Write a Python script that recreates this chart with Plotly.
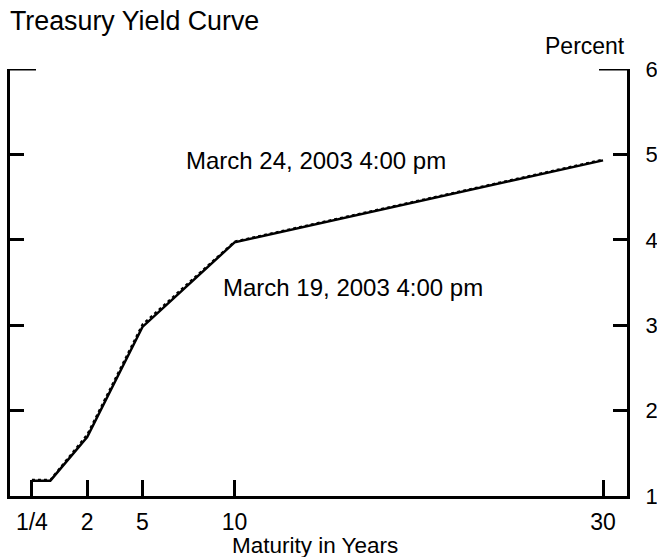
import plotly.graph_objects as go

# Treasury yield curve, two dates (percent)
maturity_labels = ["1/4", "1/2", "2", "5", "10", "30"]
# plot positions on the maturity axis (the 3-month point sits left of the origin)
maturity_pos = [-1, 0, 2, 5, 10, 30]
yield_mar24 = [1.18, 1.18, 1.69, 2.98, 3.97, 4.93]
yield_mar19 = [1.19, 1.19, 1.72, 3.01, 3.98, 4.94]

tick_pos = [-1, 2, 5, 10, 30]
tick_text = ["1/4", "2", "5", "10", "30"]
y_ticks = [1, 2, 3, 4, 5, 6]

FONT = "Liberation Sans, Arial, sans-serif"

W, H = 657, 557
L, R, T, B = 10, 30, 69, 61
PW = W - L - R

fig = go.Figure()
fig.add_trace(go.Scatter(
    x=maturity_pos, y=yield_mar19, mode="lines",
    line=dict(color="black", width=2, dash="dot"),
    name="March 19, 2003 4:00 pm", hoverinfo="skip",
))
fig.add_trace(go.Scatter(
    x=maturity_pos, y=yield_mar24, mode="lines",
    line=dict(color="black", width=2.5),
    name="March 24, 2003 4:00 pm", hoverinfo="skip",
))

fig.update_layout(
    width=W, height=H,
    margin=dict(l=L, r=R, t=T, b=B),
    plot_bgcolor="white", paper_bgcolor="white",
    showlegend=False,
    font=dict(family=FONT, size=22, color="black"),
    title=dict(
        text="Treasury Yield Curve", xref="container", yref="container",
        x=10 / W, xanchor="left", y=1 - 21 / H, yanchor="middle",
        font=dict(size=26.8, family=FONT, color="black"),
    ),
    xaxis=dict(
        range=[-2.19, 31.3], showgrid=False, zeroline=False, automargin=False,
        showline=True, linecolor="black", linewidth=3,
        ticks="inside", ticklen=16, tickwidth=3, tickcolor="black",
        tickvals=tick_pos, ticktext=tick_text, ticklabelstandoff=3,
        tickfont=dict(size=23),
    ),
    yaxis=dict(
        range=[1, 6], side="right", showgrid=False, zeroline=False, automargin=False,
        showline=True, linecolor="black", linewidth=3, mirror="ticks",
        ticks="inside", ticklen=14, tickwidth=3, tickcolor="black",
        tickvals=y_ticks, ticklabelstandoff=11,
        tickfont=dict(size=22),
    ),
)

# longer end ticks at the top of both vertical axes
for x0, x1 in [(0, 26 / PW), (1 - 28 / PW, 1)]:
    fig.add_shape(type="line", xref="paper", yref="y", x0=x0, x1=x1, y0=6, y1=6,
                  line=dict(color="black", width=3))

fig.add_annotation(text="Percent", xref="paper", yref="y", x=1, y=6,
                   xanchor="right", yanchor="bottom", xshift=0, yshift=8,
                   showarrow=False, font=dict(size=23))
fig.add_annotation(text="Maturity in Years", xref="paper", yref="paper", x=0.5, y=0,
                   xanchor="center", yanchor="middle", xshift=-4, yshift=-49,
                   showarrow=False, font=dict(size=22.5))
fig.add_annotation(text="March 24, 2003 4:00 pm", x=14.44, y=4.93,
                   showarrow=False, font=dict(size=24))
fig.add_annotation(text="March 19, 2003 4:00 pm", x=16.45, y=3.44,
                   showarrow=False, font=dict(size=24))

# drop the default page margin so the figure fills the window exactly
fig.write_html("out.html", config={"displayModeBar": False},
               post_script="document.body.style.margin = '0';")
